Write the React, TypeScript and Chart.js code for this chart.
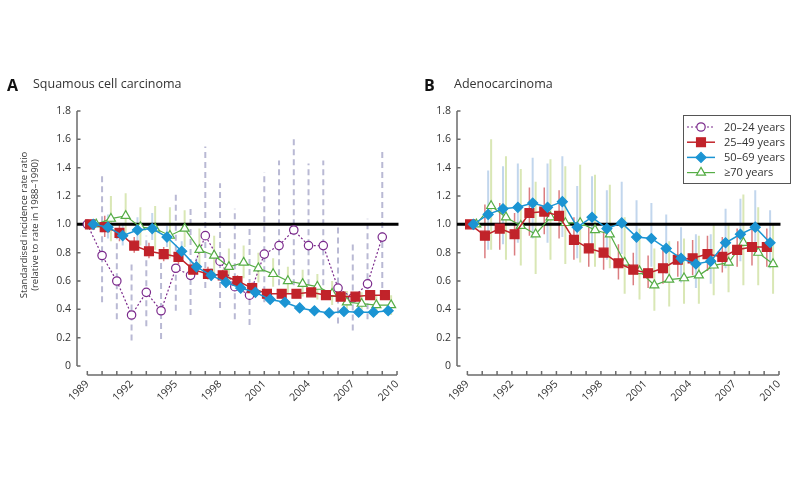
import React, { useEffect, useRef } from "react";
import { Chart, registerables } from "chart.js";
import { drawPoint } from "chart.js/helpers";

Chart.register(...registerables);

// ---------- data ----------
const years = [1989, 1990, 1991, 1992, 1993, 1994, 1995, 1996, 1997, 1998, 1999, 2000, 2001, 2002, 2003, 2004, 2005, 2006, 2007, 2008, 2009];
const xTickYears = [1989, 1992, 1995, 1998, 2001, 2004, 2007, 2010];
const xMinorYears = [1989, 1990, 1991, 1992, 1993, 1994, 1995, 1996, 1997, 1998, 1999, 2000, 2001, 2002, 2003, 2004, 2005, 2006, 2007, 2008, 2009, 2010];
const yTicks = [0, 0.2, 0.4, 0.6, 0.8, 1.0, 1.2, 1.4, 1.6, 1.8];
const referenceRatio = 1.0;

const legendLabels = ["20–24 years", "25–49 years", "50–69 years", "≥70 years"];

// Panel A: squamous cell carcinoma
const sccAge20 = [1.0, 0.78, 0.6, 0.36, 0.52, 0.39, 0.69, 0.64, 0.92, 0.74, 0.56, 0.5, 0.79, 0.85, 0.96, 0.85, 0.85, 0.55, 0.48, 0.58, 0.91];
const sccAge20Lo = [1.0, 0.45, 0.33, 0.18, 0.28, 0.19, 0.39, 0.36, 0.55, 0.41, 0.33, 0.29, 0.45, 0.5, 0.57, 0.5, 0.5, 0.3, 0.25, 0.33, 0.55];
const sccAge20Hi = [1.0, 1.35, 0.95, 0.72, 0.92, 0.75, 1.21, 1.13, 1.55, 1.29, 1.11, 1.0, 1.37, 1.45, 1.62, 1.43, 1.45, 1.0, 0.88, 1.04, 1.51];

const sccAge25 = [1.0, 0.98, 0.94, 0.85, 0.81, 0.79, 0.77, 0.68, 0.65, 0.64, 0.6, 0.55, 0.51, 0.51, 0.51, 0.52, 0.5, 0.49, 0.49, 0.5, 0.5];
const sccAge25Lo = [1.0, 0.91, 0.88, 0.8, 0.76, 0.74, 0.72, 0.63, 0.61, 0.6, 0.56, 0.52, 0.48, 0.48, 0.48, 0.49, 0.47, 0.46, 0.46, 0.47, 0.47];
const sccAge25Hi = [1.0, 1.06, 1.01, 0.91, 0.87, 0.84, 0.82, 0.73, 0.7, 0.68, 0.64, 0.59, 0.54, 0.54, 0.54, 0.55, 0.53, 0.52, 0.52, 0.53, 0.53];

const sccAge50 = [1.0, 0.98, 0.92, 0.96, 0.97, 0.91, 0.81, 0.7, 0.64, 0.59, 0.55, 0.52, 0.47, 0.45, 0.41, 0.39, 0.375, 0.385, 0.38, 0.38, 0.39];
const sccAge50Lo = [1.0, 0.9, 0.85, 0.88, 0.89, 0.84, 0.75, 0.65, 0.6, 0.55, 0.52, 0.49, 0.44, 0.42, 0.38, 0.37, 0.355, 0.365, 0.36, 0.36, 0.37];
const sccAge50Hi = [1.0, 1.07, 1.0, 1.05, 1.08, 0.99, 0.88, 0.76, 0.69, 0.63, 0.59, 0.55, 0.5, 0.48, 0.44, 0.41, 0.395, 0.405, 0.4, 0.4, 0.41];

const sccAge70 = [1.0, 1.04, 1.06, 0.98, 0.97, 0.92, 0.97, 0.82, 0.78, 0.7, 0.73, 0.69, 0.65, 0.6, 0.58, 0.56, 0.51, 0.45, 0.44, 0.43, 0.43];
const sccAge70Lo = [1.0, 0.88, 0.9, 0.85, 0.82, 0.76, 0.84, 0.69, 0.65, 0.58, 0.62, 0.59, 0.56, 0.51, 0.49, 0.47, 0.43, 0.38, 0.37, 0.36, 0.36];
const sccAge70Hi = [1.0, 1.2, 1.22, 1.12, 1.13, 1.12, 1.1, 0.97, 0.92, 0.83, 0.85, 0.8, 0.76, 0.7, 0.68, 0.65, 0.6, 0.53, 0.52, 0.5, 0.5];

// Panel B: adenocarcinoma
const adeAge25 = [1.0, 0.92, 0.97, 0.93, 1.08, 1.09, 1.06, 0.89, 0.83, 0.8, 0.725, 0.68, 0.655, 0.69, 0.75, 0.76, 0.79, 0.77, 0.82, 0.84, 0.84];
const adeAge25Lo = [1.0, 0.76, 0.82, 0.78, 0.92, 0.93, 0.9, 0.75, 0.7, 0.68, 0.61, 0.57, 0.55, 0.58, 0.63, 0.64, 0.67, 0.66, 0.7, 0.71, 0.7];
const adeAge25Hi = [1.0, 1.14, 1.15, 1.08, 1.26, 1.26, 1.24, 1.05, 0.98, 0.95, 0.86, 0.8, 0.78, 0.83, 0.88, 0.89, 0.92, 0.91, 0.97, 0.98, 0.97];

const adeAge50 = [1.0, 1.07, 1.11, 1.12, 1.15, 1.12, 1.16, 0.98, 1.05, 0.97, 1.01, 0.91, 0.9, 0.83, 0.76, 0.72, 0.74, 0.87, 0.93, 0.98, 0.87];
const adeAge50Lo = [1.0, 0.82, 0.86, 0.87, 0.9, 0.87, 0.91, 0.76, 0.82, 0.75, 0.79, 0.71, 0.7, 0.65, 0.59, 0.55, 0.58, 0.69, 0.74, 0.78, 0.69];
const adeAge50Hi = [1.0, 1.38, 1.41, 1.43, 1.47, 1.43, 1.48, 1.27, 1.34, 1.24, 1.3, 1.17, 1.15, 1.07, 0.98, 0.93, 0.93, 1.11, 1.18, 1.24, 1.1];

const adeAge70 = [1.0, 1.13, 1.05, 0.99, 0.93, 1.05, 1.01, 1.01, 0.96, 0.93, 0.73, 0.67, 0.57, 0.61, 0.62, 0.64, 0.71, 0.73, 0.87, 0.8, 0.72];
const adeAge70Lo = [1.0, 0.82, 0.75, 0.71, 0.65, 0.75, 0.72, 0.73, 0.7, 0.69, 0.51, 0.47, 0.39, 0.42, 0.44, 0.44, 0.5, 0.52, 0.57, 0.57, 0.51];
const adeAge70Hi = [1.0, 1.6, 1.48, 1.39, 1.3, 1.46, 1.41, 1.42, 1.35, 1.28, 1.05, 0.97, 0.83, 0.88, 0.9, 0.92, 1.0, 1.0, 1.21, 1.12, 1.0];

// ---------- styles ----------
const FONT = "'Open Sans', 'DejaVu Sans', sans-serif";
const X_MIN = 1988.3;
const X_MAX = 2010.2;

type Style = {
  color: string;
  fill: string;
  pointStyle: string;
  radius: number;
  lineWidth: number;
  dash: number[];
  ciColor: string;
  ciWidth: number;
  ciDash: number[];
  offset: number;
  order: number;
};

const STYLES: Style[] = [
  { color: "#7b2a8c", fill: "#ffffff", pointStyle: "circle", radius: 4.2, lineWidth: 1.2, dash: [2, 2], ciColor: "#b9b9d4", ciWidth: 2, ciDash: [6, 4], offset: 0, order: 4 },
  { color: "#c1232a", fill: "#c1232a", pointStyle: "rect", radius: 6.3, lineWidth: 1.5, dash: [], ciColor: "rgba(200,55,60,0.65)", ciWidth: 1.5, ciDash: [], offset: 0.18, order: 2 },
  { color: "#1b94d3", fill: "#1b94d3", pointStyle: "rectRot", radius: 5, lineWidth: 1.5, dash: [], ciColor: "rgba(120,165,215,0.45)", ciWidth: 2, ciDash: [], offset: 0.4, order: 1 },
  { color: "#56ad46", fill: "#ffffff", pointStyle: "triangle", radius: 5.2, lineWidth: 1.2, dash: [], ciColor: "rgba(185,212,120,0.55)", ciWidth: 2, ciDash: [], offset: 0.6, order: 3 },
];

function seriesPoints(vals: number[], off: number) {
  return years.map((yr, i) => ({ x: yr + off, y: vals[i] }));
}

function ciPoints(lo: number[], hi: number[], off: number) {
  const pts: { x: number; y: number | null }[] = [];
  years.forEach((yr, i) => {
    pts.push({ x: yr + off, y: lo[i] });
    pts.push({ x: yr + off, y: hi[i] });
    pts.push({ x: yr + off, y: null });
  });
  return pts;
}

function buildDatasets(series: { idx: number; v: number[]; lo: number[]; hi: number[] }[]) {
  const ds: any[] = [];
  series.forEach(({ idx, lo, hi }) => {
    const s = STYLES[idx];
    ds.push({
      type: "line",
      data: ciPoints(lo, hi, s.offset),
      borderColor: s.ciColor,
      borderWidth: s.ciWidth,
      borderDash: s.ciDash,
      pointRadius: 0,
      spanGaps: false,
      order: 20 + idx,
    });
  });
  ds.push({
    type: "line",
    data: [
      { x: X_MIN, y: referenceRatio },
      { x: 2010.1, y: referenceRatio },
    ],
    borderColor: "#000",
    borderWidth: 3,
    pointRadius: 0,
    order: 10,
  });
  series.forEach(({ idx, v }) => {
    const s = STYLES[idx];
    ds.push({
      type: "line",
      label: legendLabels[idx],
      data: seriesPoints(v, s.offset),
      borderColor: s.color,
      borderWidth: s.lineWidth,
      borderDash: s.dash,
      pointStyle: s.pointStyle,
      pointRadius: s.radius,
      pointBackgroundColor: s.fill,
      pointBorderColor: s.color,
      pointBorderWidth: 1.2,
      tension: 0,
      order: s.order,
    });
  });
  return ds;
}

const axesPlugin = {
  id: "offsetAxes",
  beforeDatasetsDraw(chart: any) {
    const { ctx, chartArea, scales } = chart;
    const xs = scales.x;
    const ys = scales.y;
    ctx.save();
    ctx.strokeStyle = "#6b6b6b";
    ctx.lineWidth = 1.5;
    // y axis
    ctx.beginPath();
    ctx.moveTo(chartArea.left, ys.getPixelForValue(1.8));
    ctx.lineTo(chartArea.left, ys.getPixelForValue(0));
    yTicks.forEach((t) => {
      const py = ys.getPixelForValue(t);
      ctx.moveTo(chartArea.left, py);
      ctx.lineTo(chartArea.left + 3.5, py);
    });
    ctx.stroke();
    // x axis (offset below)
    const ay = chartArea.bottom + 9;
    ctx.beginPath();
    ctx.moveTo(xs.getPixelForValue(1989), ay);
    ctx.lineTo(xs.getPixelForValue(2010), ay);
    xMinorYears.forEach((yr) => {
      const px = xs.getPixelForValue(yr);
      ctx.moveTo(px, ay);
      ctx.lineTo(px, ay - 4);
    });
    ctx.stroke();
    ctx.restore();
  },
};

function makeLegendPlugin(boxX: number, boxY: number) {
  return {
    id: "customLegend",
    afterDraw(chart: any) {
      const ctx = chart.ctx;
      ctx.save();
      ctx.strokeStyle = "#555";
      ctx.lineWidth = 1;
      ctx.strokeRect(boxX + 0.5, boxY + 0.5, 107, 68);
      legendLabels.forEach((lab, i) => {
        const s = STYLES[i];
        const y = boxY + 12 + i * 15.2;
        ctx.strokeStyle = s.color;
        ctx.lineWidth = s.lineWidth;
        ctx.setLineDash(s.dash);
        ctx.beginPath();
        ctx.moveTo(boxX + 4, y);
        ctx.lineTo(boxX + 32, y);
        ctx.stroke();
        ctx.setLineDash([]);
        ctx.fillStyle = s.fill;
        ctx.strokeStyle = s.color;
        ctx.lineWidth = 1.2;
        drawPoint(ctx, { pointStyle: s.pointStyle as any, radius: s.radius, rotation: 0, borderWidth: 1.2 }, boxX + 18, y);
        ctx.fillStyle = "#333";
        ctx.font = `11px ${FONT}`;
        ctx.textAlign = "left";
        ctx.textBaseline = "middle";
        ctx.fillText(lab, boxX + 41, y + 0.5);
      });
      ctx.restore();
    },
  };
}

function makeConfig(datasets: any[], yWidth: number, padRight: number, extraPlugins: any[]) {
  return {
    type: "line" as const,
    data: { datasets },
    options: {
      animation: false as const,
      responsive: false,
      maintainAspectRatio: false,
      events: [],
      layout: { padding: { top: 111, right: padRight, bottom: 0, left: 0 } },
      plugins: { legend: { display: false }, tooltip: { enabled: false }, title: { display: false } },
      scales: {
        x: {
          type: "linear" as const,
          min: X_MIN,
          max: X_MAX,
          grid: { display: false, drawTicks: false },
          border: { display: false },
          afterBuildTicks: (s: any) => {
            s.ticks = xTickYears.map((v) => ({ value: v }));
          },
          afterFit: (s: any) => {
            s.height = 113;
          },
          ticks: {
            autoSkip: false,
            minRotation: 45,
            maxRotation: 45,
            padding: 12,
            color: "#333",
            font: { family: FONT, size: 10.5 },
            callback: (v: any) => String(v),
          },
        },
        y: {
          type: "linear" as const,
          min: 0,
          max: 1.8,
          grid: { display: false, drawTicks: false },
          border: { display: false },
          afterBuildTicks: (s: any) => {
            s.ticks = yTicks.map((v) => ({ value: v }));
          },
          afterFit: (s: any) => {
            s.width = yWidth;
          },
          ticks: {
            padding: 6,
            color: "#333",
            font: { family: FONT, size: 10.5 },
            callback: (v: any) => (v === 0 ? "0" : Number(v).toFixed(1)),
          },
        },
      },
    },
    plugins: [axesPlugin, ...extraPlugins],
  };
}

function Panel({ left, width, config }: { left: number; width: number; config: any }) {
  const ref = useRef<HTMLCanvasElement | null>(null);
  useEffect(() => {
    if (!ref.current) return;
    const chart = new Chart(ref.current, config);
    return () => chart.destroy();
  }, [config]);
  return (
    <canvas
      ref={ref}
      width={width}
      height={479}
      style={{ position: "absolute", left, top: 0, width, height: 479 }}
    />
  );
}

const A_LEFT = 0;
const A_WIDTH = 418;
const B_LEFT = 418;
const B_WIDTH = 382;

const configA = makeConfig(
  buildDatasets([
    { idx: 0, v: sccAge20, lo: sccAge20Lo, hi: sccAge20Hi },
    { idx: 1, v: sccAge25, lo: sccAge25Lo, hi: sccAge25Hi },
    { idx: 2, v: sccAge50, lo: sccAge50Lo, hi: sccAge50Hi },
    { idx: 3, v: sccAge70, lo: sccAge70Lo, hi: sccAge70Hi },
  ]),
  77,
  A_WIDTH - 410,
  []
);

const configB = makeConfig(
  buildDatasets([
    { idx: 1, v: adeAge25, lo: adeAge25Lo, hi: adeAge25Hi },
    { idx: 2, v: adeAge50, lo: adeAge50Lo, hi: adeAge50Hi },
    { idx: 3, v: adeAge70, lo: adeAge70Lo, hi: adeAge70Hi },
  ]),
  457 - B_LEFT,
  B_LEFT + B_WIDTH - 789,
  [makeLegendPlugin(683 - B_LEFT, 115)]
);

const textStyle: React.CSSProperties = { position: "absolute", fontFamily: FONT, color: "#333", whiteSpace: "nowrap", lineHeight: 1 };

export default function App() {
  return (
    <div style={{ position: "absolute", left: 0, top: 0, width: 800, height: 479, background: "#fff", overflow: "hidden" }}>
      <Panel left={A_LEFT} width={A_WIDTH} config={configA} />
      <Panel left={B_LEFT} width={B_WIDTH} config={configB} />
      <div style={{ ...textStyle, left: 7, top: 77, fontSize: 16, fontWeight: 700, color: "#111" }}>A</div>
      <div style={{ ...textStyle, left: 33, top: 78, fontSize: 12.5 }}>Squamous cell carcinoma</div>
      <div style={{ ...textStyle, left: 424, top: 77, fontSize: 16, fontWeight: 700, color: "#111" }}>B</div>
      <div style={{ ...textStyle, left: 454, top: 78, fontSize: 12.5 }}>Adenocarcinoma</div>
      <div
        style={{
          ...textStyle,
          left: 29 - 100,
          top: 225 - 11,
          width: 200,
          height: 22,
          fontSize: 9.5,
          lineHeight: "11px",
          textAlign: "center",
          transform: "rotate(-90deg)",
        }}
      >
        Standardised incidence rate ratio
        <br />
        (relative to rate in 1988–1990)
      </div>
    </div>
  );
}
